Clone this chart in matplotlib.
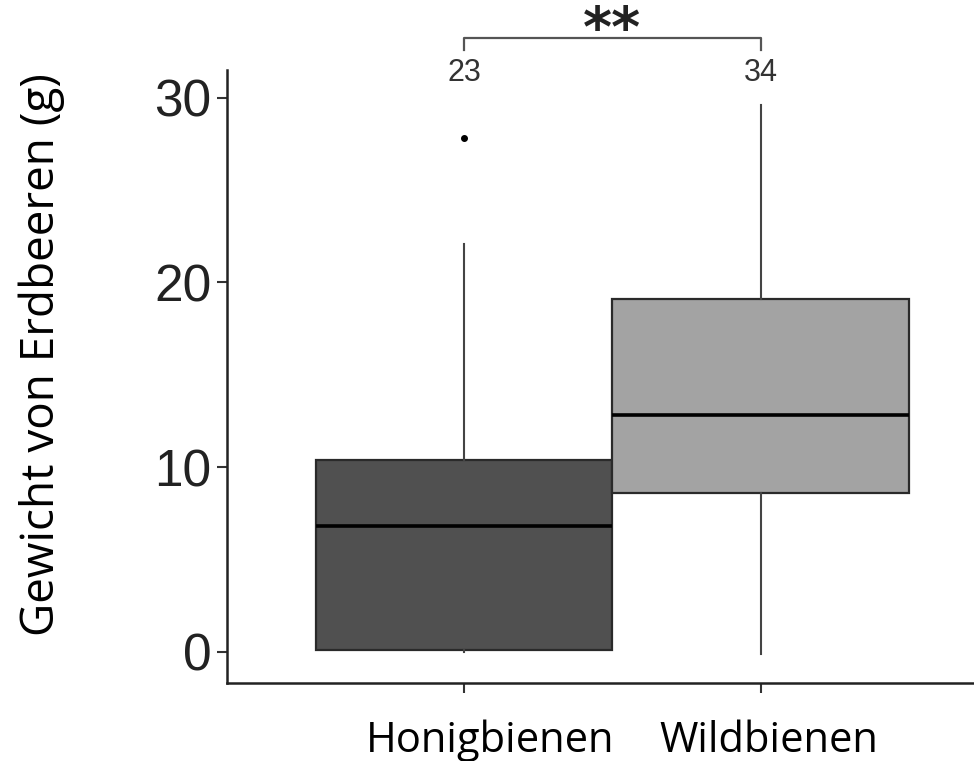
import numpy as np
import matplotlib
matplotlib.use("Agg")
from matplotlib import pyplot as plt

groups = ["Honigbienen", "Wildbienen"]
n_obs = ["23", "34"]
q1 = [0.1, 8.6]
med = [6.8, 12.8]
q3 = [10.4, 19.1]
whis_lo = [0.0, -0.1]
whis_hi = [22.1, 29.6]
outliers = [[27.8], []]
fill = ["#505050", "#a3a3a3"]

fig = plt.figure(figsize=(9.74, 7.61), dpi=100)
ax = fig.add_axes([227/974, 78/761, 747/974, 613/761])

stats = []
for i in range(2):
    stats.append(dict(label=groups[i], q1=q1[i], med=med[i], q3=q3[i],
                      whislo=whis_lo[i], whishi=whis_hi[i], fliers=outliers[i]))

pos = [1, 2]
bp = ax.bxp(stats, positions=pos, widths=1.0, patch_artist=True, showcaps=False,
            boxprops=dict(edgecolor="#2a2a2a", linewidth=1.6),
            medianprops=dict(color="black", linewidth=2.6),
            whiskerprops=dict(color="#444444", linewidth=1.5),
            flierprops=dict(marker="o", markersize=4, markerfacecolor="black",
                            markeredgecolor="black"))
for patch, c in zip(bp["boxes"], fill):
    patch.set_facecolor(c)

ax.set_xlim(0.2, 2.72)
ax.set_ylim(-1.68, 31.5)
ax.set_yticks([0, 10, 20, 30])
ax.set_yticklabels(["0", "10", "20", "30"], fontfamily="Liberation Sans", fontsize=37,
                   color="#222222")
ax.set_xticks(pos)
ax.set_xticklabels([])
ax.tick_params(axis="y", length=7, width=1.5, pad=4, color="#333333")
ax.tick_params(axis="x", length=7, width=1.5, color="#333333")
for s in ["top", "right"]:
    ax.spines[s].set_visible(False)
for s in ["left", "bottom"]:
    ax.spines[s].set_linewidth(1.8)
    ax.spines[s].set_color("#222222")

# group names under the axis (slightly off the tick positions, as in the original)
ax.text(1.089, -0.1126, groups[0], transform=ax.get_xaxis_transform(), ha="center",
        va="baseline", fontfamily="Open Sans", fontsize=30, color="black")
ax.text(2.028, -0.1126, groups[1], transform=ax.get_xaxis_transform(), ha="center",
        va="baseline", fontfamily="Open Sans", fontsize=30, color="black")

ylab = ax.set_ylabel("Gewicht von Erdbeeren (g)", fontfamily="Open Sans", fontsize=33)
ylab.set_va("center")
ax.yaxis.set_label_coords(-0.2477, 0.535)

# sample sizes and significance bracket
for p, n in zip(pos, n_obs):
    ax.text(p, 31.35, n, ha="center", va="center", fontfamily="Liberation Sans",
            fontsize=22, color="#333333", clip_on=False)
ax.plot([1, 1, 2, 2], [32.6, 33.24, 33.24, 32.6], color="#555555", linewidth=1.6,
        clip_on=False)
ax.text(1.5, 32.8, "**", ha="center", va="baseline", fontfamily="DejaVu Sans",
        fontsize=40, fontweight="bold", color="#222222", clip_on=False)

fig.savefig("out.png", dpi=100)
